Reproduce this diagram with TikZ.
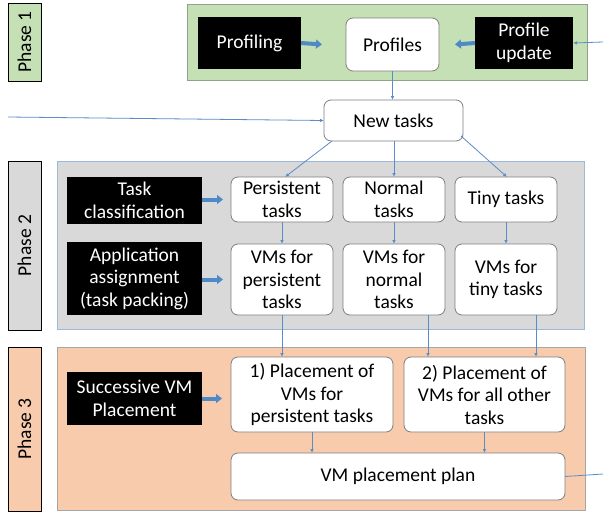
\documentclass[tikz,border=0pt]{standalone}
\usepackage{fontspec}
\setmainfont{Carlito}
\usetikzlibrary{arrows.meta,calc}
\definecolor{grn}{HTML}{C5E0B4}
\definecolor{grnb}{HTML}{8EA48A}
\definecolor{gry}{HTML}{D9D9D9}
\definecolor{gryb}{HTML}{9DB9D9}
\definecolor{org}{HTML}{F8CBAD}
\definecolor{orgb}{HTML}{A6A6A6}
\definecolor{wbord}{HTML}{7F7F7F}
\definecolor{lnk}{HTML}{5B8BC9}
\definecolor{blk}{HTML}{4F8AC6}
\tikzset{
  txt/.style={font=\fontsize{19.5}{22.5}\selectfont, align=center, inner sep=0pt, outer sep=0pt},
  container/.style={draw, line width=0.9pt, inner sep=0pt, outer sep=0pt},
  phaselabel/.style={txt, draw=black, line width=1pt, rotate=90},
  blackbox/.style={txt, fill=black, text=white},
  whitebox/.style={txt, fill=white, draw=wbord, line width=0.8pt, rounded corners=7pt},
  thinarrow/.style={draw=lnk, line width=0.8pt, -{Latex[length=4pt,width=3.5pt]}},
  thinline/.style={draw=lnk, line width=0.8pt},
  blockarrow/.style={draw=blk, line width=4pt, -{Triangle[length=6pt,width=9pt]}}
}
\begin{document}
\begin{tikzpicture}[x=1pt,y=-1pt]
\useasboundingbox[fill=white] (0,0) rectangle (603,512);

% containers
\node[container, draw=grnb, fill=grn, minimum width=400pt, minimum height=76pt] (c1) at (387,42) {};
\node[container, draw=gryb, fill=gry, minimum width=527pt, minimum height=168pt] (c2) at (320.5,245) {};
\node[container, draw=orgb, fill=org, minimum width=528pt, minimum height=163pt] (c3) at (321,428.5) {};

% phase labels
\node[phaselabel, fill=grn, minimum width=78pt, minimum height=33pt] (ph1) at (24.5,42) {Phase 1};
\node[phaselabel, fill=gry, minimum width=169pt, minimum height=33pt] (ph2) at (24.5,245.5) {Phase 2};
\node[phaselabel, fill=org, minimum width=164pt, minimum height=33pt] (ph3) at (24.5,429) {Phase 3};

% phase 1
\node[blackbox, minimum width=103pt, minimum height=52pt] (profiling) at (249.5,43) {Profiling};
\node[whitebox, minimum width=93pt, minimum height=53pt] (profiles) at (392.5,44.5) {Profiles};
\node[blackbox, minimum width=98pt, minimum height=52pt] (update) at (524,43) {Profile\\update};

\node[whitebox, minimum width=139pt, minimum height=41pt] (newtasks) at (393.5,120.5) {New tasks};

% phase 2
\node[blackbox, minimum width=135pt, minimum height=47pt] (taskclass) at (134.5,200.5) {Task\\classification};
\node[whitebox, minimum width=102pt, minimum height=45pt] (pers) at (282,199.5) {Persistent\\tasks};
\node[whitebox, minimum width=102pt, minimum height=45pt] (normal) at (394,199.5) {Normal\\tasks};
\node[whitebox, minimum width=102pt, minimum height=45pt] (tiny) at (506,199.5) {Tiny tasks};

\node[blackbox, minimum width=135pt, minimum height=73pt] (appassign) at (134.5,278.5) {Application\\assignment\\(task packing)};
\node[whitebox, minimum width=102pt, minimum height=71pt] (vmpers) at (282,279.5) {VMs for\\persistent\\tasks};
\node[whitebox, minimum width=102pt, minimum height=71pt] (vmnorm) at (394,279.5) {VMs for\\normal\\tasks};
\node[whitebox, minimum width=102pt, minimum height=71pt] (vmtiny) at (506,279.5) {VMs for\\tiny tasks};

% phase 3
\node[blackbox, minimum width=135pt, minimum height=53pt] (successive) at (134.5,398.5) {Successive VM\\Placement};
\node[whitebox, minimum width=162pt, minimum height=75pt] (place1) at (312,394.5) {1) Placement of\\VMs for\\persistent tasks};
\node[whitebox, minimum width=161pt, minimum height=75pt] (place2) at (484.5,394.5) {2) Placement of\\VMs for all other\\tasks};
\node[whitebox, minimum width=334pt, minimum height=47pt] (plan) at (398,476.5) {VM placement plan};

% free ends
\coordinate (inL) at (8,117);
\coordinate (inR) at (603,42);
\coordinate (outR) at (603,474);

% block arrows
\draw[blockarrow] (profiling.east) -- ([xshift=-24pt]profiles.west);
\draw[blockarrow] (update.west) -- ([xshift=16pt]profiles.east);
\draw[blockarrow] (taskclass.east |- pers.west) -- ([xshift=-8pt]pers.west);
\draw[blockarrow] (appassign.east |- vmpers.west) -- ([xshift=-8pt]vmpers.west);
\draw[blockarrow] (successive.east) -- ([xshift=-9pt]successive.east -| place1.west);

% thin connectors
\draw[thinarrow] (inR) -- (update.east);
\draw[thinarrow] (inL) -- (newtasks.west);
\draw[thinline] (plan.east) -- (outR);
\draw[thinarrow] (profiles.south) -- (profiles.south |- newtasks.north);

\coordinate (ntA) at ($(newtasks.south west)+(8,0)$);
\coordinate (ntB) at ($(newtasks.south east)+(-2,-5)$);
\draw[thinarrow] (ntA) -- ([xshift=3pt]pers.north);
\draw[thinarrow] (newtasks.south -| normal.north) -- (normal.north);
\draw[thinarrow] (ntB) -- ([xshift=1pt]tiny.north);

\draw[thinarrow] (pers.south) -- (vmpers.north);
\draw[thinarrow] (normal.south) -- (vmnorm.north);
\draw[thinarrow] (tiny.south) -- (vmtiny.north);

\coordinate (vp) at (vmpers.south);
\coordinate (vn) at ([xshift=34pt]vmnorm.south);
\coordinate (vt) at ([xshift=30pt]vmtiny.south);
\draw[thinarrow] (vp) -- (vp |- place1.north);
\draw[thinarrow] (vn) -- (vn |- place2.north);
\draw[thinarrow] (vt) -- (vt |- place2.north);

\draw[thinarrow] (place1.south) -- (place1.south |- plan.north);
\draw[thinarrow] (place2.south) -- (place2.south |- plan.north);
\end{tikzpicture}
\end{document}
